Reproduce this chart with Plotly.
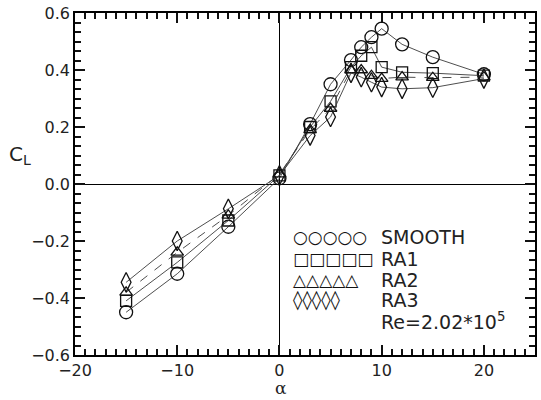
import plotly.graph_objects as go

alpha = [-15, -10, -5, 0, 3, 5, 7, 8, 9, 10, 12, 15, 20]
cl_smooth = [-0.45, -0.315, -0.15, 0.02, 0.21, 0.35, 0.435, 0.48, 0.515, 0.545, 0.49, 0.445, 0.385]
cl_ra1 = [-0.41, -0.275, -0.128, 0.03, 0.20, 0.29, 0.41, 0.45, 0.48, 0.41, 0.392, 0.389, 0.38]
cl_ra2 = [-0.38, -0.24, -0.11, 0.035, 0.19, 0.265, 0.40, 0.40, 0.38, 0.37, 0.375, 0.373, 0.375]
cl_ra3 = [-0.345, -0.2, -0.087, 0.03, 0.17, 0.235, 0.39, 0.375, 0.357, 0.34, 0.334, 0.338, 0.37]

series_names = ["SMOOTH", "RA1", "RA2", "RA3"]
series_vals = [cl_smooth, cl_ra1, cl_ra2, cl_ra3]
symbols = ["circle-open", "square-open", "triangle-up-open", "diamond-tall-open"]
glyphs = ["\u25cb", "\u25a1", "\u25b3", "\u25ca"]
glyph_sizes = [17, 17, 17, 19]
dashes = ["solid", "solid", "dash", "solid"]
sizes = [13, 11, 11, 14]

fig = go.Figure()
for name, vals, sym, dsh, sz in zip(series_names, series_vals, symbols, dashes, sizes):
    fig.add_trace(go.Scatter(
        x=alpha, y=vals, mode="lines+markers", name=name,
        line=dict(color="#3a3a3a", width=0.9, dash=dsh),
        marker=dict(symbol=sym, size=sz, color="#111111", line=dict(width=1.3, color="#111111")),
        showlegend=False,
    ))

font_main = "DejaVu Sans"
axis_common = dict(
    showline=True, linecolor="black", linewidth=1.5, mirror="allticks",
    ticks="inside", ticklen=10, tickwidth=2, tickcolor="#111111",
    showgrid=False, zeroline=True, zerolinecolor="black", zerolinewidth=1.2,
    tickfont=dict(family=font_main, size=16, color="#222"),
)
fig.update_xaxes(range=[-20, 25], tickmode="linear", tick0=0, dtick=10,
                 minor=dict(tickmode="linear", tick0=0, dtick=1, ticks="inside", ticklen=6,
                            tickcolor="#111111", tickwidth=1.6, showgrid=False),
                 **axis_common)
fig.update_yaxes(range=[-0.6, 0.6], tickmode="linear", tick0=0, dtick=0.2, tickformat=".1f",
                 minor=dict(tickmode="linear", tick0=0, dtick=0.2 / 6, ticks="inside", ticklen=6,
                            tickcolor="#111111", tickwidth=1.6, showgrid=False),
                 **axis_common)

annotations = [
    dict(text="C<sub>L</sub>", x=-0.12, y=0.585, xref="paper", yref="paper", showarrow=False,
         font=dict(family=font_main, size=20, color="#222"), xanchor="center", yanchor="middle"),
    dict(text="\u03b1", x=0.448, y=-0.131, xref="paper", yref="paper", showarrow=False,
         font=dict(family="DejaVu Serif", size=17, color="#222"), xanchor="center", yanchor="bottom"),
]
row_y = [0.345, 0.282, 0.22, 0.162]
for name, g, gs, ry in zip(series_names, glyphs, glyph_sizes, row_y):
    annotations.append(dict(text=g * 5, x=0.47, y=ry, xref="paper", yref="paper", showarrow=False,
                            font=dict(family=font_main, size=gs, color="#111"), xanchor="left", yanchor="middle"))
    annotations.append(dict(text=name, x=0.66, y=ry, xref="paper", yref="paper", showarrow=False,
                            font=dict(family=font_main, size=19, color="#222"), xanchor="left", yanchor="middle"))
annotations.append(dict(text="Re=2.02*10<sup>5</sup>", x=0.66, y=0.1, xref="paper", yref="paper", showarrow=False,
                        font=dict(family=font_main, size=19, color="#222"), xanchor="left", yanchor="middle"))

fig.update_layout(
    width=541, height=400,
    margin=dict(l=75, r=4, t=13, b=45),
    paper_bgcolor="white", plot_bgcolor="white",
    annotations=annotations,
    showlegend=False,
)
fig.write_html("out.html")
